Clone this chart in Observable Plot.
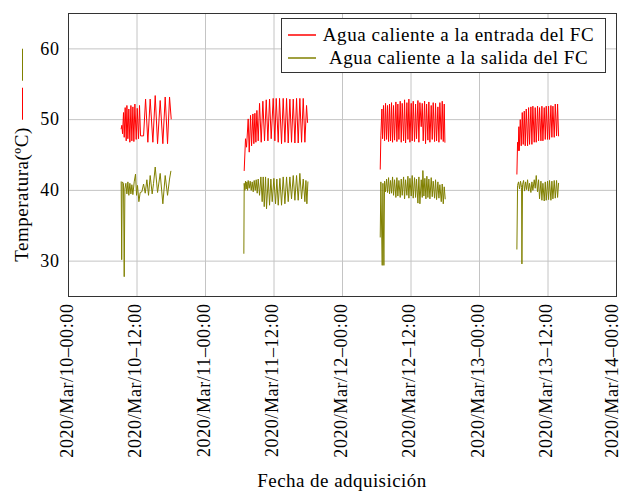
<!DOCTYPE html>
<html>
<head>
<meta charset="utf-8">
<script src="https://cdn.jsdelivr.net/npm/d3@7"></script>
<script src="https://cdn.jsdelivr.net/npm/@observablehq/plot@0.6"></script>
<style>
  html, body { margin: 0; padding: 0; background: white; }
  #wrap { position: relative; width: 623px; height: 491px; font-family: 'Liberation Serif', serif; color: #000; }
  #wrap svg { position: absolute; left: 0; top: 0; }
  .legend { position: absolute; left: 281px; top: 18px; width: 323px; height: 53px; border: 1px solid #333; background: white; font-size: 19px; letter-spacing: 0.55px; }
  .lrow { position: absolute; left: 0; width: 323px; height: 22px; }
  .lrow .sample { position: absolute; left: 6px; top: 10px; width: 28px; height: 2px; opacity: 0.75; }
  .lrow .txt { position: absolute; left: 36px; width: 281px; text-align: center; top: 0; line-height: 22px; white-space: nowrap; }
  .ylab { position: absolute; left: 22px; top: 154.5px; width: 0; height: 0; }
  .ylab .inner { position: absolute; transform: translate(-50%, -50%) rotate(-90deg); display: flex; align-items: center; white-space: nowrap; font-size: 19px; letter-spacing: 0.5px; line-height: 20px; }
  .ylab .seg { display: inline-block; height: 1px; }
  .xlab { position: absolute; left: 68px; width: 548px; top: 470px; text-align: center; font-size: 19px; letter-spacing: 0.45px; line-height: 22px; }
</style>
</head>
<body>
<div id="wrap"></div>
<script>
// ---- data ----
const days = ["2020-03-10", "2020-03-11", "2020-03-12", "2020-03-13"];
const seriesNames = ["Agua caliente a la entrada del FC", "Agua caliente a la salida del FC"];
const seriesColors = ["#ff0000", "#808000"];
const yTicks = [30, 40, 50, 60];
const xTickTimes = ["2020-03-10T00:00Z", "2020-03-10T12:00Z", "2020-03-11T00:00Z", "2020-03-11T12:00Z",
  "2020-03-12T00:00Z", "2020-03-12T12:00Z", "2020-03-13T00:00Z", "2020-03-13T12:00Z", "2020-03-14T00:00Z"];
const xTickLabels = ["2020/Mar/10–00:00", "2020/Mar/10–12:00", "2020/Mar/11–00:00", "2020/Mar/11–12:00",
  "2020/Mar/12–00:00", "2020/Mar/12–12:00", "2020/Mar/13–00:00", "2020/Mar/13–12:00", "2020/Mar/14–00:00"];

// Inlet (entrada) — hours of day and temperatures
const inHours10 = [9.23, 9.35, 9.47, 9.64, 9.76, 9.93, 10.11, 10.23, 10.40, 10.57, 10.75, 10.93, 11.10, 11.28, 11.45, 11.63, 11.86, 12.04, 12.27, 12.44, 12.62, 13.15, 13.50, 13.90, 14.31, 14.78, 15.19, 15.60, 16.06, 16.53, 16.94, 17.35, 17.70, 17.99];
const inTemp10 = [48.7, 49.2, 48.0, 51.0, 47.5, 51.7, 47.0, 52.0, 47.3, 51.5, 46.8, 52.0, 47.0, 51.8, 46.9, 52.2, 47.2, 51.6, 47.3, 52.0, 47.7, 47.7, 52.9, 46.8, 52.9, 46.8, 53.4, 46.6, 52.7, 46.6, 53.2, 46.6, 53.2, 50.1];
const inHours11 = [6.78, 7.01, 7.19, 7.48, 7.66, 7.89, 8.07, 8.30, 8.47, 8.65, 8.83, 9.00, 9.23, 9.47, 9.76, 10.05, 10.34, 10.64, 10.93, 11.22, 11.51, 11.86, 12.15, 12.39, 12.74, 12.97, 13.32, 13.61, 13.91, 14.20, 14.49, 14.78, 15.07, 15.37, 15.66, 15.95, 16.24, 16.53, 16.83, 17.12, 17.41, 17.70, 17.88];
const inTemp11 = [42.8, 47.3, 46.1, 50.1, 45.4, 50.6, 46.3, 50.8, 46.6, 50.9, 46.8, 51.3, 47.0, 52.3, 46.8, 52.6, 47.0, 52.8, 47.0, 52.9, 47.3, 53.0, 47.0, 53.0, 46.8, 53.0, 46.6, 53.0, 46.8, 53.0, 46.7, 52.9, 46.8, 52.9, 46.7, 53.0, 46.7, 53.0, 46.8, 53.0, 46.8, 52.0, 49.6];
const inHours12 = [6.61, 6.72, 6.90, 7.02, 7.19, 7.37, 7.54, 7.72, 7.89, 8.07, 8.24, 8.42, 8.59, 8.77, 8.94, 9.12, 9.35, 9.53, 9.70, 9.88, 10.11, 10.29, 10.46, 10.70, 10.87, 11.05, 11.28, 11.46, 11.63, 11.81, 12.04, 12.21, 12.39, 12.62, 12.80, 12.97, 13.21, 13.38, 13.56, 13.79, 13.97, 14.14, 14.38, 14.55, 14.73, 14.96, 15.13, 15.31, 15.54, 15.72, 15.89, 16.13, 16.30, 16.48, 16.71, 16.89, 17.06, 17.30, 17.47, 17.65, 17.82, 17.94];
const inTemp12 = [43.0, 47.7, 51.5, 47.3, 52.0, 47.0, 52.3, 47.2, 52.0, 46.9, 52.2, 47.0, 52.4, 46.8, 52.0, 47.1, 52.5, 46.9, 52.2, 47.2, 52.6, 46.8, 52.3, 47.0, 52.8, 46.7, 52.4, 47.2, 52.9, 46.8, 52.3, 47.0, 52.6, 46.9, 52.2, 47.3, 52.7, 46.8, 52.4, 49.0, 52.3, 47.0, 52.6, 46.6, 52.2, 47.1, 52.5, 46.8, 52.0, 47.2, 52.4, 46.9, 52.3, 47.0, 51.8, 46.8, 52.4, 47.2, 52.6, 46.9, 52.2, 46.8];
const inHours13 = [6.55, 6.67, 6.78, 6.90, 6.96, 7.14, 7.31, 7.49, 7.66, 7.84, 8.01, 8.19, 8.42, 8.60, 8.77, 9.00, 9.18, 9.35, 9.59, 9.76, 9.94, 10.17, 10.35, 10.52, 10.76, 10.93, 11.11, 11.34, 11.52, 11.69, 11.92, 12.10, 12.27, 12.51, 12.68, 12.86, 13.09, 13.27, 13.50, 13.68, 13.85];
const inTemp13 = [42.3, 46.8, 45.6, 49.0, 45.6, 50.0, 46.3, 51.0, 46.5, 51.2, 46.3, 51.5, 46.3, 51.7, 46.5, 51.8, 46.5, 51.9, 46.8, 51.7, 46.8, 51.9, 47.0, 51.7, 47.0, 51.9, 47.0, 51.7, 47.2, 51.9, 47.2, 51.9, 47.2, 52.0, 47.5, 51.9, 47.5, 52.2, 47.7, 52.2, 47.7];

// Outlet (salida) — hours of day and temperatures
const outHours10 = [9.23, 9.32, 9.41, 9.64, 9.76, 9.88, 10.05, 10.23, 10.40, 10.57, 10.75, 10.93, 11.10, 11.28, 11.51, 11.74, 11.92, 12.09, 12.33, 12.56, 12.85, 13.15, 13.44, 13.73, 14.02, 14.31, 14.66, 14.90, 15.19, 15.60, 16.06, 16.53, 16.94, 17.35, 17.70, 17.93];
const outTemp10 = [41.2, 30.2, 41.2, 41.0, 27.8, 40.2, 41.0, 39.5, 41.2, 39.3, 41.0, 39.5, 40.8, 39.4, 41.2, 42.3, 39.3, 40.7, 38.4, 39.7, 39.8, 40.9, 39.6, 41.5, 39.3, 42.1, 39.5, 41.0, 43.3, 39.7, 42.4, 38.1, 42.1, 39.3, 41.6, 42.7];
const outHours11 = [6.72, 6.78, 6.90, 7.01, 7.13, 7.25, 7.37, 7.48, 7.66, 7.83, 8.01, 8.18, 8.36, 8.53, 8.71, 8.88, 9.06, 9.23, 9.47, 9.70, 9.93, 10.11, 10.29, 10.52, 10.69, 10.99, 11.22, 11.45, 11.69, 11.98, 12.27, 12.50, 12.74, 13.03, 13.32, 13.61, 13.91, 14.20, 14.49, 14.78, 15.07, 15.37, 15.66, 15.95, 16.24, 16.53, 16.83, 17.12, 17.41, 17.59, 17.76, 17.94];
const outTemp11 = [31.1, 41.0, 40.0, 41.3, 40.2, 41.2, 40.0, 41.4, 40.3, 41.3, 40.0, 41.2, 39.8, 41.4, 40.0, 41.5, 39.6, 41.6, 39.3, 41.9, 38.4, 41.9, 37.7, 41.9, 37.4, 41.7, 37.9, 41.6, 38.4, 41.7, 38.1, 41.6, 37.9, 41.7, 37.9, 41.9, 38.1, 41.9, 38.4, 41.9, 38.8, 42.1, 38.6, 42.1, 38.6, 42.4, 38.8, 41.6, 38.4, 41.4, 38.1, 41.2];
const outHours12 = [6.61, 6.72, 6.96, 7.08, 7.25, 7.37, 7.54, 7.72, 7.89, 8.07, 8.24, 8.42, 8.59, 8.77, 8.94, 9.12, 9.35, 9.53, 9.70, 9.88, 10.11, 10.29, 10.46, 10.70, 10.87, 11.05, 11.28, 11.46, 11.63, 11.81, 12.04, 12.21, 12.39, 12.62, 12.80, 12.97, 13.21, 13.38, 13.56, 13.79, 13.97, 14.08, 14.26, 14.43, 14.61, 14.78, 14.96, 15.13, 15.31, 15.54, 15.72, 15.89, 16.13, 16.30, 16.48, 16.71, 16.89, 17.06, 17.30, 17.47, 17.65, 17.82, 17.99];
const outTemp12 = [33.4, 41.2, 29.4, 41.0, 29.4, 41.3, 39.8, 41.6, 39.7, 41.8, 39.5, 41.4, 39.6, 41.9, 39.3, 41.5, 39.0, 41.8, 39.2, 41.4, 39.0, 41.6, 39.3, 41.9, 38.8, 41.5, 39.3, 42.0, 38.9, 41.7, 39.2, 42.1, 38.9, 41.8, 39.0, 41.6, 38.2, 41.9, 38.1, 41.5, 39.0, 42.8, 39.2, 41.7, 38.8, 42.0, 39.0, 41.6, 38.8, 41.8, 39.1, 41.3, 38.9, 41.5, 38.7, 41.2, 38.9, 40.8, 38.4, 40.9, 38.1, 40.5, 38.8];
const outHours13 = [6.55, 6.67, 6.84, 7.02, 7.19, 7.37, 7.43, 7.54, 7.72, 7.89, 8.07, 8.25, 8.42, 8.60, 8.77, 9.00, 9.18, 9.35, 9.59, 9.76, 9.94, 10.17, 10.35, 10.52, 10.76, 10.93, 11.11, 11.34, 11.52, 11.69, 11.92, 12.10, 12.27, 12.51, 12.68, 12.86, 13.09, 13.27, 13.50, 13.68, 13.85];
const outTemp13 = [31.7, 40.7, 41.2, 40.2, 41.3, 40.4, 29.6, 40.8, 41.4, 39.9, 41.2, 40.1, 41.5, 39.9, 41.0, 39.7, 41.2, 40.0, 41.5, 40.3, 42.1, 39.8, 41.5, 38.8, 41.3, 38.6, 41.0, 38.5, 41.2, 38.6, 41.3, 38.7, 41.4, 38.6, 41.3, 38.8, 41.4, 38.9, 41.4, 39.0, 41.0];

// ---- build table ----
const rows = [];
function addSeg(si, di, hours, temps) {
  const base = Date.parse(days[di] + "T00:00:00Z");
  const n = Math.min(hours.length, temps.length);
  for (let i = 0; i < n; i++) {
    rows.push({t: new Date(base + hours[i] * 3600000), v: temps[i], s: seriesNames[si], seg: si + "-" + di});
  }
}
[[inHours10, inTemp10], [inHours11, inTemp11], [inHours12, inTemp12], [inHours13, inTemp13]]
  .forEach(([h, v], di) => addSeg(0, di, h, v));
[[outHours10, outTemp10], [outHours11, outTemp11], [outHours12, outTemp12], [outHours13, outTemp13]]
  .forEach(([h, v], di) => addSeg(1, di, h, v));

const xTicks = xTickTimes.map(s => new Date(s));
const labelMap = new Map(xTicks.map((d, i) => [+d, xTickLabels[i]]));
const fmt = d => labelMap.get(+d);

const chart = Plot.plot({
  width: 623,
  height: 491,
  marginLeft: 68,
  marginRight: 7,
  marginTop: 13,
  marginBottom: 195,
  style: {fontFamily: "'Liberation Serif', serif", fontSize: "18px", letterSpacing: "0.6px", background: "transparent", color: "#000"},
  x: {type: "utc", domain: [xTicks[0], xTicks[xTicks.length - 1]]},
  y: {domain: [25, 65]},
  color: {domain: seriesNames, range: seriesColors},
  marks: [
    Plot.gridX(xTicks, {stroke: "#c4c4c4", strokeOpacity: 1}),
    Plot.gridY(yTicks, {stroke: "#c4c4c4", strokeOpacity: 1}),
    Plot.line(rows, {x: "t", y: "v", z: "seg", stroke: "s", strokeWidth: 1}),
    Plot.frame({stroke: "#333", strokeWidth: 1}),
    Plot.axisX(xTicks.slice(0, -1), {tickFormat: fmt, tickRotate: -90, tickSize: 0, tickPadding: 7, dx: -1.5, label: null}),
    Plot.axisX(xTicks.slice(-1), {tickFormat: fmt, tickRotate: -90, tickSize: 0, tickPadding: 7, dx: -4, label: null}),
    Plot.axisY(yTicks, {tickSize: 0, tickPadding: 9, label: null})
  ]
});

const wrap = document.getElementById("wrap");
wrap.appendChild(chart);

// legend
const legend = document.createElement("div");
legend.className = "legend";
seriesNames.forEach((name, i) => {
  const row = document.createElement("div");
  row.className = "lrow";
  row.style.top = (i === 0 ? 5 : 28) + "px";
  const sample = document.createElement("div");
  sample.className = "sample";
  sample.style.backgroundColor = seriesColors[i];
  const txt = document.createElement("div");
  txt.className = "txt";
  txt.textContent = name;
  row.appendChild(sample);
  row.appendChild(txt);
  legend.appendChild(row);
});
wrap.appendChild(legend);

// y label with line images
const ylab = document.createElement("div");
ylab.className = "ylab";
const inner = document.createElement("div");
inner.className = "inner";
const ytxt = document.createElement("span");
ytxt.textContent = "Temperatura(ºC)";
inner.appendChild(ytxt);
[[seriesColors[0], 8], [seriesColors[1], 7]].forEach(([c, gap]) => {
  const s = document.createElement("span");
  s.className = "seg";
  s.style.width = "32px";
  s.style.marginLeft = gap + "px";
  s.style.backgroundColor = c;
  inner.appendChild(s);
});
ylab.appendChild(inner);
wrap.appendChild(ylab);

// x label
const xlab = document.createElement("div");
xlab.className = "xlab";
xlab.textContent = "Fecha de adquisición";
wrap.appendChild(xlab);
</script>
</body>
</html>
